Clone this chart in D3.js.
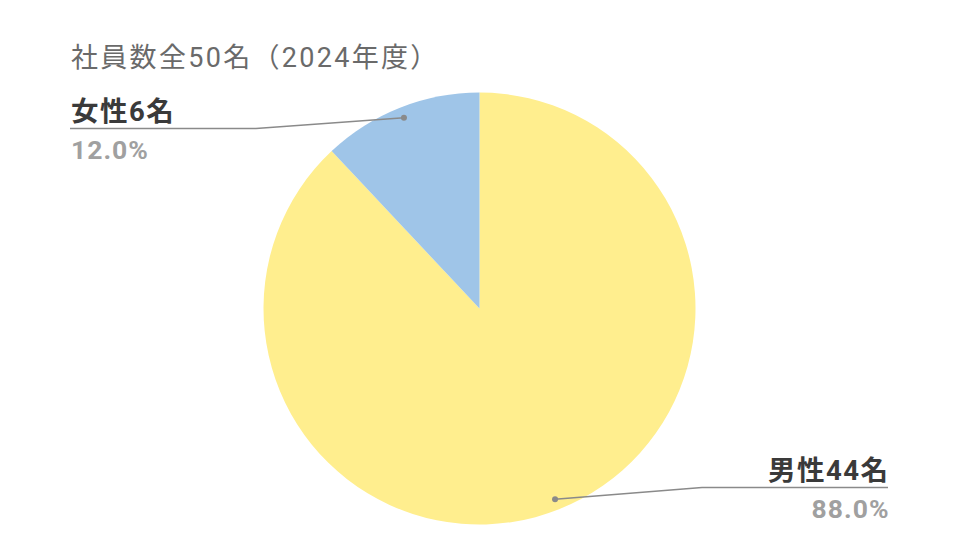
<!DOCTYPE html>
<html>
<head>
<meta charset="utf-8">
<script src="https://cdn.jsdelivr.net/npm/d3@7"></script>
<style>
  html, body { margin: 0; padding: 0; background: #fff; }
  svg { display: block; }
</style>
</head>
<body>
<div id="chart"></div>
<script>
// Employee count by gender, FY2024
var titleText = '社員数全50名（2024年度）';
var categories = ['男性', '女性'];
var counts = [44, 6];
var colors = ['#FFEE8E', '#9FC5E8'];

var width = 960, height = 540;
var cx = 479.5, cy = 308.5, radius = 216;
var font = "Roboto, 'Noto Sans CJK JP', sans-serif";

var svg = d3.select('#chart').append('svg')
    .attr('width', width)
    .attr('height', height);

// title
svg.append('text')
    .attr('x', 71)
    .attr('y', 67)
    .style('font-family', font)
    .style('font-size', '27px')
    .style('letter-spacing', '2.3px')
    .style('fill', '#6a6a6a')
    .text(titleText);

var total = d3.sum(counts);
var data = categories.map(function(c, i) { return {name: c, value: counts[i], color: colors[i]}; });

var pie = d3.pie()
    .sort(null)
    .value(function(d) { return d.value; });
var arcs = pie(data);

var arc = d3.arc().innerRadius(0).outerRadius(radius);
var dotArc = d3.arc().innerRadius(radius * 0.95).outerRadius(radius * 0.95);

var g = svg.append('g')
    .attr('transform', 'translate(' + cx + ',' + cy + ')');

g.selectAll('path.slice')
    .data(arcs)
    .enter().append('path')
    .attr('class', 'slice')
    .attr('d', arc)
    .style('fill', function(d) { return d.data.color; });

// label layout: left labels start at x=70, right labels end at x=888
var labelX = {left: 70, right: 888};
var labelY = {'女性': 128.5, '男性': 487.5};
var underlineLen = 186;

arcs.forEach(function(d) {
    var mid = (d.startAngle + d.endAngle) / 2;
    var side = Math.sin(mid) < 0 ? 'left' : 'right';
    var p = dotArc.centroid(d);
    var dot = [cx + p[0], cy + p[1]];
    var ly = labelY[d.data.name];
    var x0 = side === 'left' ? labelX.left : labelX.right;
    var x1 = side === 'left' ? x0 + underlineLen : x0 - underlineLen;

    svg.append('polyline')
        .attr('points', [[x0, ly], [x1, ly], dot].map(function(q) { return q.join(','); }).join(' '))
        .style('fill', 'none')
        .style('stroke', '#8a8a8a')
        .style('stroke-width', 1.6);

    svg.append('circle')
        .attr('cx', dot[0])
        .attr('cy', dot[1])
        .attr('r', 3)
        .style('fill', '#8a8a8a');

    var anchor = side === 'left' ? 'start' : 'end';
    var tx = side === 'left' ? x0 + 1 : x0 + 1.5;

    svg.append('text')
        .attr('x', tx)
        .attr('y', ly - 7.5)
        .style('font-family', font)
        .style('font-size', '27.5px')
        .style('font-weight', 'bold')
        .style('letter-spacing', '1.5px')
        .style('text-anchor', anchor)
        .style('fill', '#3a3a3a')
        .text(d.data.name + d.data.value + '名');

    svg.append('text')
        .attr('x', tx)
        .attr('y', ly + 30)
        .style('font-family', font)
        .style('font-size', '26.5px')
        .style('font-weight', 'bold')
        .style('letter-spacing', '1px')
        .style('text-anchor', anchor)
        .style('fill', '#a0a0a0')
        .text(d3.format('.1f')(d.data.value / total * 100) + '%');
});
</script>
</body>
</html>
